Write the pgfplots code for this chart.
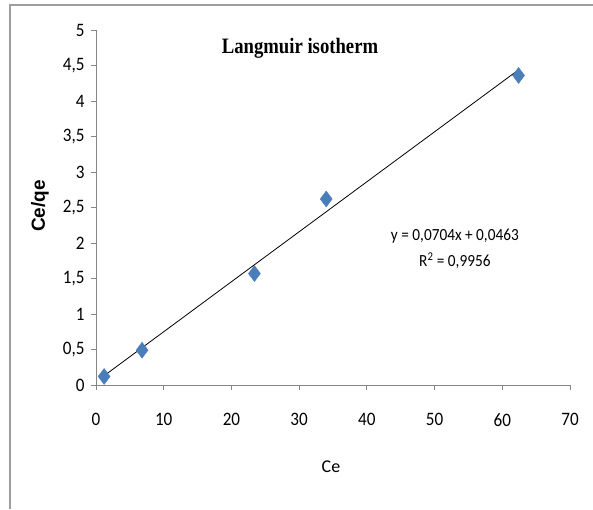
\documentclass[border=0pt]{standalone}
\usepackage{fontspec}
\setmainfont{Carlito}
\newfontfamily\titlefont[FakeStretch=0.85]{Liberation Serif}
\newfontfamily\ylabfont{Liberation Sans}
\newfontfamily\narrowfont[FakeStretch=0.9]{Carlito}
\usepackage{pgfplots}
\pgfplotsset{compat=1.18}
\definecolor{mkblue}{RGB}{74,126,187}
\definecolor{axgray}{RGB}{134,134,134}
\begin{document}
\begin{tikzpicture}[x=1pt,y=1pt]
\useasboundingbox (0,0) rectangle (593,509);
\draw[axgray!80, line width=1.2pt] (10,0) -- (10,504) -- (593,504);
\begin{axis}[
  at={(96pt,124pt)}, anchor=south west,
  scale only axis, width=474pt, height=355pt,
  xmin=0, xmax=70, ymin=0, ymax=5,
  axis x line=bottom, axis y line=left,
  axis line style={-, axgray, line width=1pt},
  xtick={0,10,...,70},
  ytick={0,0.5,...,5},
  tick align=outside, major tick length=5pt,
  tick style={axgray, line width=1pt},
  /pgf/number format/assume math mode=true,
  /pgf/number format/use comma,
  /pgf/number format/1000 sep={},
  tick label style={font=\narrowfont\fontsize{19}{22}\selectfont},
  xticklabel style={yshift=-20pt},
  yticklabel style={xshift=-3pt},
  clip=false,
]
\addplot[black, line width=0.8pt, no marks] coordinates {(1.0,0.1167) (62.2,4.4252)};
\addplot[only marks, mark=diamond*, mark size=8pt, mark options={fill=mkblue, draw=mkblue}] coordinates {
(1.2,0.12) (6.8,0.49) (23.4,1.57) (34.0,2.62) (62.4,4.36)};
\node[align=center, font=\narrowfont\fontsize{17}{26}\selectfont] at (axis cs:53.0,1.92) {y = 0,0704x + 0,0463\\R\textsuperscript{2} = 0,9956};
\end{axis}
\node[font=\titlefont\bfseries\fontsize{22}{24}\selectfont] at (300,461) {Langmuir isotherm};
\node[font=\fontsize{18}{20}\selectfont] at (331,42) {Ce};
\node[rotate=90, font=\ylabfont\bfseries\fontsize{19}{20}\selectfont] at (40,303) {Ce/qe};
\end{tikzpicture}
\end{document}
